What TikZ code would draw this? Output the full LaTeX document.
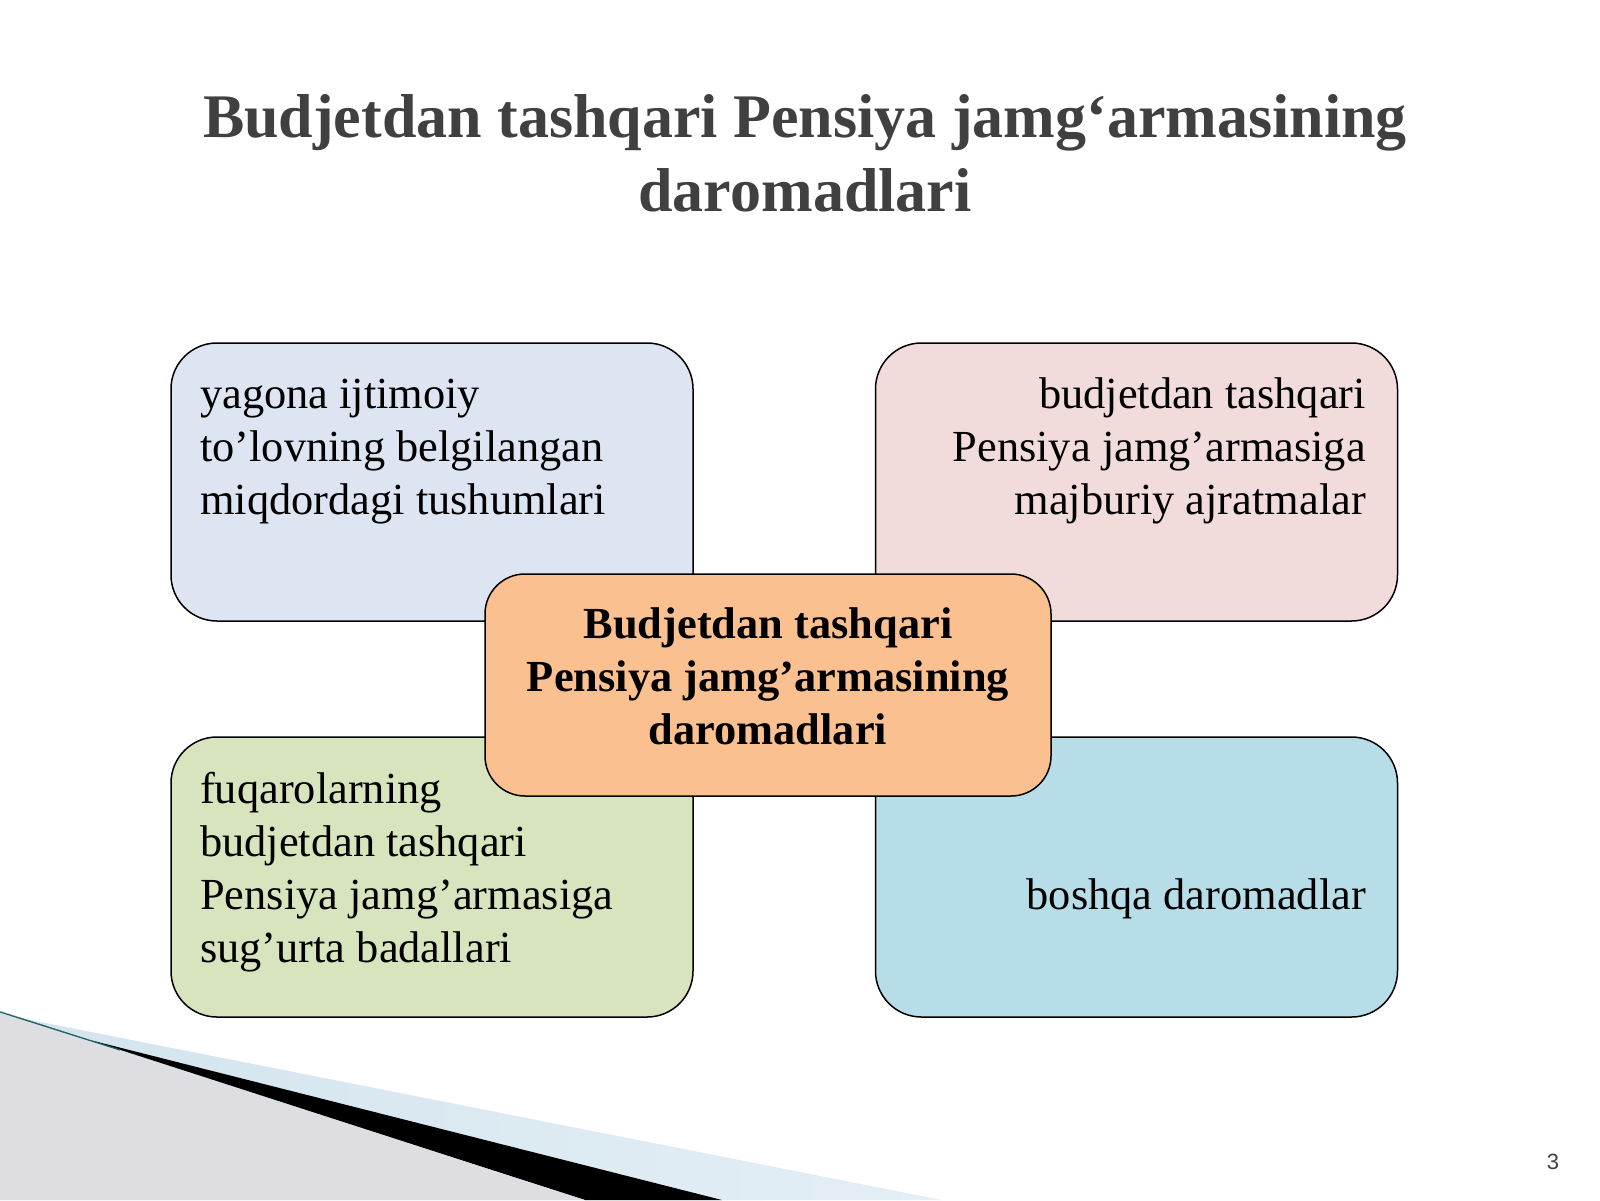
\documentclass[tikz,border=0pt]{standalone}
\usepackage{fontspec}
\setmainfont{Liberation Serif}
\setsansfont{Liberation Sans}
\usetikzlibrary{calc}
\usetikzlibrary{positioning}
\definecolor{titlegray}{RGB}{64,64,64}
\definecolor{paneblue}{RGB}{220,229,241}
\definecolor{panepink}{RGB}{242,220,219}
\definecolor{panegreen}{RGB}{215,228,189}
\definecolor{panecyan}{RGB}{183,222,232}
\definecolor{huborange}{RGB}{250,192,144}
\definecolor{sidegray}{RGB}{222,221,225}
\definecolor{bandblue}{RGB}{210,228,238}
\definecolor{edgeteal}{RGB}{30,100,100}
\tikzset{
  panel/.style={draw=black, line width=1.5pt, rounded corners=46pt,
    minimum width=522pt, minimum height=278pt, inner sep=0pt},
  hub/.style={draw=black, line width=1.5pt, rounded corners=40pt,
    minimum width=566pt, minimum height=222pt, inner sep=0pt, fill=huborange},
  paneltext/.style={font=\fontsize{44.4}{53}\selectfont, inner sep=0pt},
}

\begin{document}
\begin{tikzpicture}[x=1pt, y=-1pt]
  \useasboundingbox (0,0) rectangle (1600,1200);

  % corner decoration
  \shade [left color=bandblue, right color=bandblue!60] (0,1014) -- (942,1200) -- (0,1200) -- cycle;
  \fill [black] (0,1011) -- (86,1039) -- (722,1200) -- (585,1200) -- cycle;
  \fill [sidegray] (0,1013) -- (585,1200) -- (0,1200) -- cycle;
  \draw [edgeteal, line width=1.2pt] (0,1012) -- (120,1050);

  % title (base = last line)
  \node [font=\fontsize{62}{74}\selectfont\bfseries, text=titlegray, align=center,
    anchor=base, inner sep=0pt] (title) at (805,211)
    {Budjetdan tashqari Pensiya jamg‘armasining\\daromadlari};

  % four panels
  \node [panel, fill=paneblue] (incomeA) at (432,482) {};
  \node [panel, fill=panepink] (incomeB) at (1136.5,482) {};
  \node [panel, fill=panegreen, minimum height=280pt] (incomeC) at (432,877) {};
  \node [panel, fill=panecyan, minimum height=280pt] (incomeD) at (1136.5,877) {};

  \node [paneltext, align=left, anchor=base west] (textA) at (200,514)
    {yagona ijtimoiy\\to’lovning belgilangan\\miqdordagi tushumlari};
  \node [paneltext, align=right, anchor=base east] (textB) at (1366,514)
    {budjetdan tashqari\\Pensiya jamg’armasiga\\majburiy ajratmalar};
  \node [paneltext, align=left, anchor=base west] (textC) at (200,962)
    {fuqarolarning\\budjetdan tashqari\\Pensiya jamg’armasiga\\sug’urta badallari};
  \node [paneltext, anchor=base east] (textD) at (1366,909) {boshqa daromadlar};

  % centre
  \node [hub] (fund) at (768,685) {};
  \node [paneltext, font=\fontsize{44.4}{53}\selectfont\bfseries, align=center, anchor=base]
    (fundtext) at (768,744) {Budjetdan tashqari\\Pensiya jamg’armasining\\daromadlari};

  \node [font=\sffamily\fontsize{22}{26}\selectfont, text=titlegray] (pagenum) at (1553,1162) {3};
\end{tikzpicture}
\end{document}
